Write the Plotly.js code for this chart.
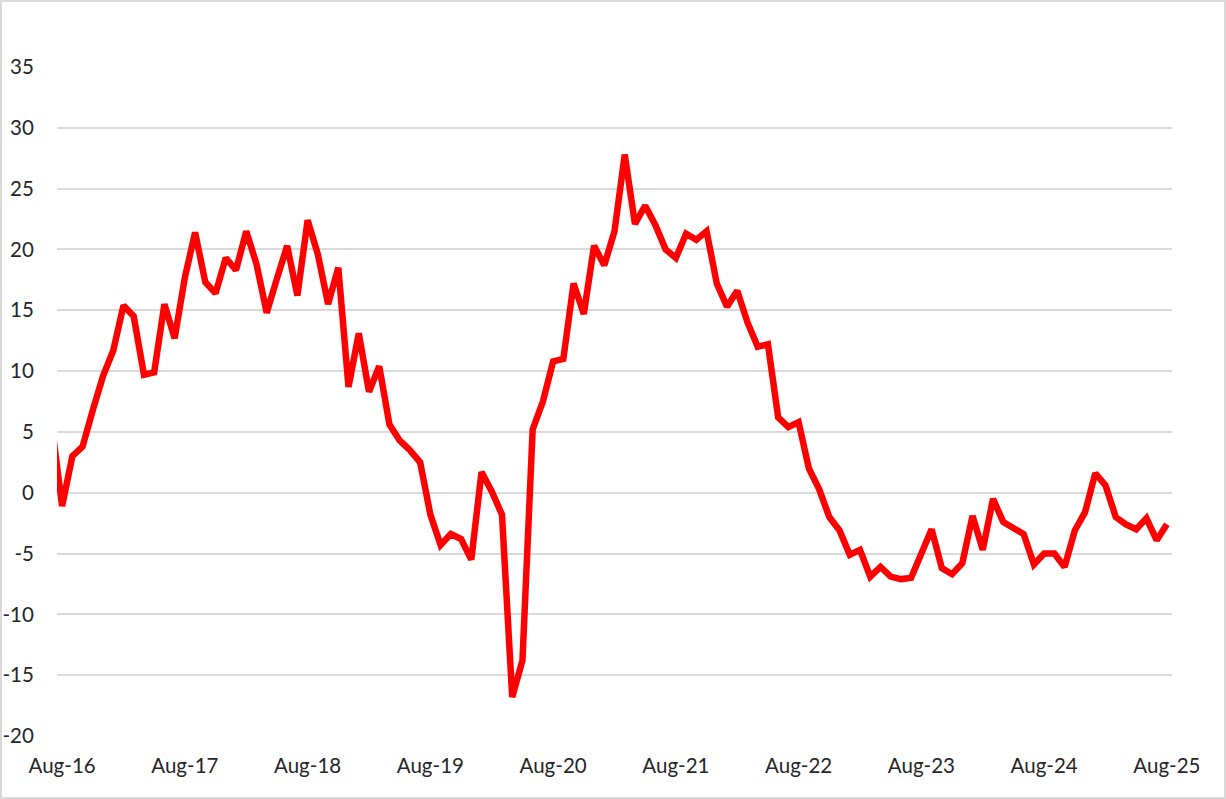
<!DOCTYPE html>
<html>
<head>
<meta charset="utf-8">
<script src="https://cdn.plot.ly/plotly-3.0.1.min.js"></script>
<style>
  html, body { margin: 0; padding: 0; background: #ffffff; }
  #wrap { position: relative; width: 1226px; height: 799px; }
  #chart { width: 1226px; height: 799px; }
  #frame { position: absolute; left: 0; top: 0; width: 1226px; height: 799px; box-sizing: border-box; border: 2px solid #d9d9d9; pointer-events: none; }
</style>
</head>
<body>
<div id="wrap"><div id="chart"></div><div id="frame"></div></div>
<script>
// Monthly values, Jul-16 .. Aug-25
const values = [
  5.5,
  -1.1, 3.0, 3.8, 6.8, 9.6, 11.7, 15.4, 14.5, 9.7, 9.9, 15.5, 12.7,
  17.7, 21.4, 17.3, 16.4, 19.3, 18.3, 21.5, 18.8, 14.8, 17.6, 20.3, 16.2,
  22.4, 19.6, 15.5, 18.5, 8.7, 13.1, 8.3, 10.4, 5.6, 4.3, 3.5, 2.5,
  -1.8, -4.3, -3.4, -3.8, -5.5, 1.7, 0.1, -1.8, -16.8, -13.8, 5.2, 7.5,
  10.8, 11.0, 17.2, 14.7, 20.3, 18.7, 21.5, 27.8, 22.1, 23.6, 22.0, 20.0,
  19.3, 21.3, 20.8, 21.5, 17.2, 15.3, 16.6, 14.0, 12.0, 12.2, 6.2, 5.4,
  5.8, 2.0, 0.3, -2.0, -3.1, -5.1, -4.7, -6.9, -6.1, -6.9, -7.1, -7.0,
  -4.9, -3.0, -6.2, -6.7, -5.8, -1.9, -4.7, -0.5, -2.4, -2.9, -3.4, -5.9,
  -5.0, -5.0, -6.1, -3.1, -1.6, 1.6, 0.6, -2.0, -2.6, -3.0, -2.1, -3.9,
  -2.6
];
// month index: Aug-16 = 0
const monthIndex = values.map((v, i) => i - 1);
const tickPositions = [0, 12, 24, 36, 48, 60, 72, 84, 96, 108];
const tickLabels = ['Aug-16', 'Aug-17', 'Aug-18', 'Aug-19', 'Aug-20', 'Aug-21', 'Aug-22', 'Aug-23', 'Aug-24', 'Aug-25'];
const yTicks = [-20, -15, -10, -5, 0, 5, 10, 15, 20, 25, 30, 35];
const yTickLabels = ['-20', '-15', '-10', '-5', '0', '5', '10', '15', '20', '25', '30', '35'];

const trace = {
  x: monthIndex,
  y: values,
  type: 'scatter',
  mode: 'lines',
  line: { color: '#ff0000', width: 6.5, shape: 'linear' },
  hoverinfo: 'skip'
};

const tickFont = { family: 'Lato, "Open Sans", sans-serif', size: 20.5, color: '#262626' };

const layout = {
  width: 1226,
  height: 799,
  margin: { l: 57, r: 54, t: 67, b: 63, pad: 0 },
  paper_bgcolor: '#ffffff',
  plot_bgcolor: '#ffffff',
  showlegend: false,
  font: tickFont,
  xaxis: {
    range: [-0.5, 108.5],
    tickmode: 'array',
    tickvals: tickPositions,
    ticktext: tickLabels,
    showgrid: false,
    zeroline: false,
    showline: false,
    ticks: 'outside',
    ticklen: 11,
    tickcolor: 'rgba(0,0,0,0)',
    tickfont: tickFont
  },
  yaxis: {
    range: [-20, 35],
    tickmode: 'array',
    tickvals: yTicks,
    ticktext: yTickLabels,
    showgrid: true,
    gridcolor: '#d9d9d9',
    gridwidth: 2,
    zeroline: false,
    showline: false,
    ticks: 'outside',
    ticklen: 18,
    tickcolor: 'rgba(0,0,0,0)',
    tickfont: tickFont
  }
};

Plotly.newPlot('chart', [trace], layout, { displayModeBar: false, staticPlot: true });
</script>
</body>
</html>
